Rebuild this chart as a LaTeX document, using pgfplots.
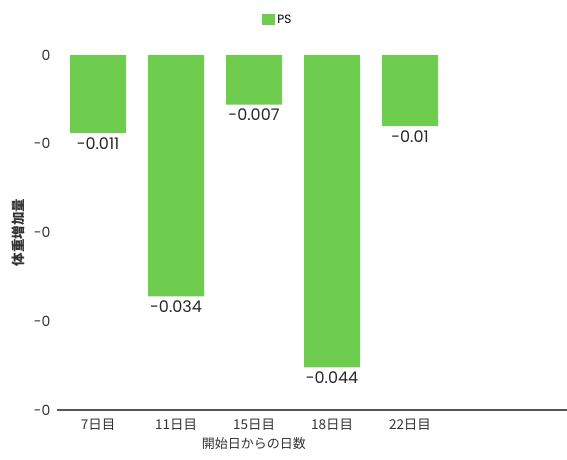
\documentclass[border=0pt]{standalone}
\usepackage{pgfplots}
\pgfplotsset{compat=1.18}
\usepackage{fontspec}
\setmainfont{Poppins}
\newfontfamily\jp{Noto Sans CJK JP}
\definecolor{barg}{HTML}{6ECC4E}
\definecolor{axgray}{HTML}{555555}
\begin{document}
\begin{tikzpicture}
\begin{axis}[
    scale only axis,
    width=510pt, height=355pt,
    ybar, bar width=56pt,
    xmin=-0.526, xmax=6.013,
    ymin=-0.05, ymax=0,
    scaled y ticks=false,
    axis x line*=bottom, axis y line*=left,
    x axis line style={axgray, line width=1.4pt, -},
    y axis line style={draw=none},
    xtick={0,1,2,3,4},
    xticklabels={7日目, 11日目, 15日目, 18日目, 22日目},
    ytick={-0.05,-0.0375,-0.025,-0.0125,0},
    yticklabels={\mbox{-0},\mbox{-0},\mbox{-0},\mbox{-0},\mbox{0}},
    tick style={draw=none},
    xticklabel style={font=\jp\fontsize{13.5}{13.5}\selectfont, text=black!80, yshift=-1pt},
    yticklabel style={font=\fontsize{14}{14}\selectfont, text=black!80, xshift=-3pt},
    xlabel={開始日からの日数},
    ylabel={体重増加量},
    xlabel style={font=\jp\fontsize{13}{13}\selectfont, text=black!80, at={(axis description cs:0.386,-0.094)}, anchor=center},
    ylabel style={font=\jp\bfseries\fontsize{13.5}{13.5}\selectfont, text=black!80, at={(axis description cs:-0.0765,0.5)}, anchor=center},
    point meta=explicit symbolic,
    nodes near coords,
    every node near coord/.append style={font=\fontsize{16}{16}\selectfont, text=black!85, anchor=north, yshift=-1pt},
    legend style={draw=none, fill=none, at={(axis description cs:0.433,1.098)}, anchor=center,
        font=\fontsize{12}{12}\selectfont},
    legend image code/.code={\fill[barg] (0pt,-5pt) rectangle (13pt,6pt);},
    clip=false,
]
\addplot[draw=none, fill=barg] coordinates {
    (0,-0.011) [-0.011]
    (1,-0.034) [-0.034]
    (2,-0.007) [-0.007]
    (3,-0.044) [-0.044]
    (4,-0.01)  [-0.01]
};
\legend{PS}
\end{axis}
\pgfresetboundingbox
\path[use as bounding box] (-57pt,-49pt) rectangle (510pt,410pt);
\end{tikzpicture}
\end{document}
